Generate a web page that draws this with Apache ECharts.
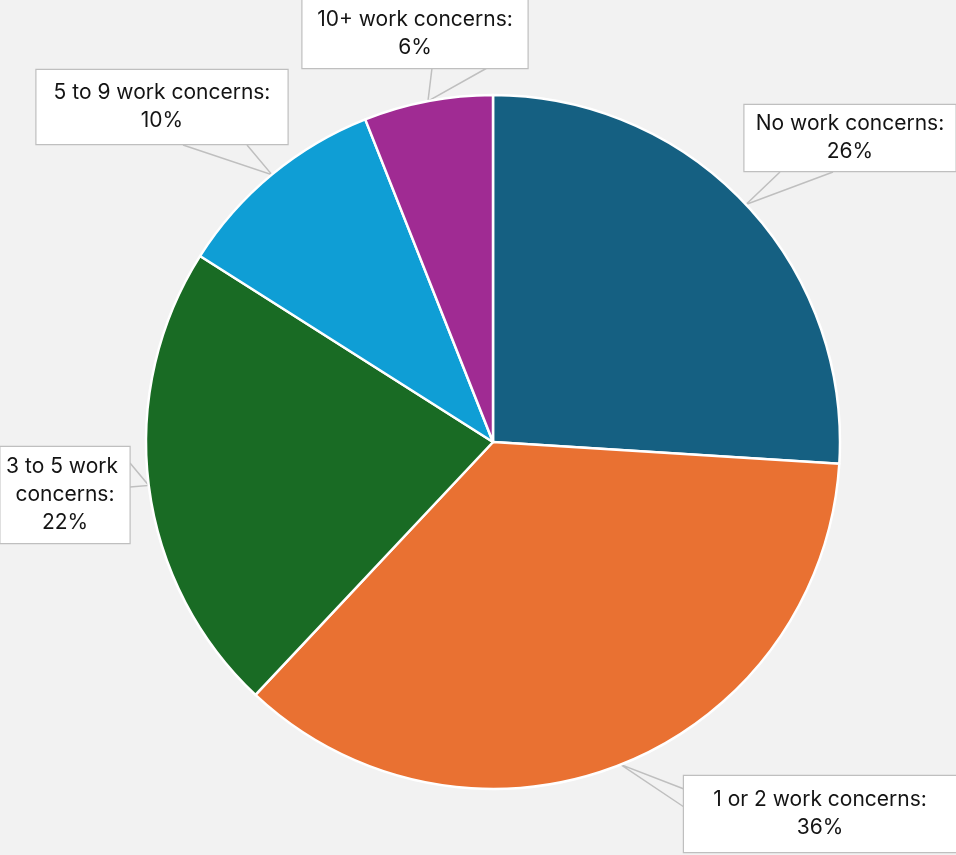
<!DOCTYPE html>
<html>
<head>
<meta charset="utf-8">
<style>
  html, body { margin: 0; padding: 0; background: #F2F2F2; }
  #chart { width: 956px; height: 855px; }
</style>
<script src="https://cdn.jsdelivr.net/npm/echarts@6/dist/echarts.min.js"></script>
</head>
<body>
<div id="chart"></div>
<script>
// Share of respondents by number of work concerns
const categories = ['No work concerns', '1 or 2 work concerns', '3 to 5 work concerns', '5 to 9 work concerns', '10+ work concerns'];
const shares = [26, 36, 22, 10, 6];
const colors = ['#156082', '#E97132', '#196B24', '#0F9ED5', '#A02B93'];

// Callout boxes: centre, width, vertical padding, and the two points
// (relative to the box centre) where the pointer leaves the box edge
const callouts = [
  { x: 850, y: 138, w: 211, pad: 5,  base: [[-70, 34], [-17, 34]] },
  { x: 820, y: 814, w: 272, pad: 10, base: [[-136, -25], [-136, -7]] },
  { x: 65,  y: 495, w: 129, pad: 6,  base: [[65, -32], [65, -8]] },
  { x: 162, y: 107, w: 251, pad: 9,  base: [[21, 38], [85, 38]] },
  { x: 415, y: 34,  w: 225, pad: 6,  base: [[17, 34], [72, 34]] }
];

const chart = echarts.init(document.getElementById('chart'));

const data = categories.map((name, i) => ({
  name: name,
  value: shares[i],
  itemStyle: { color: colors[i] },
  label: {
    width: callouts[i].w,
    padding: [callouts[i].pad, 0, callouts[i].pad, 0],
    overflow: 'break'
  }
}));

chart.setOption({
  backgroundColor: '#F2F2F2',
  animation: false,
  series: [{
    type: 'pie',
    center: [493, 442],
    radius: 347,
    startAngle: 90,
    clockwise: true,
    data: data,
    itemStyle: { borderColor: '#FFFFFF', borderWidth: 2.5 },
    label: {
      show: true,
      position: 'outside',
      formatter: p => p.name + ':\n' + p.value + '%',
      fontFamily: 'Inter, sans-serif',
      fontSize: 21,
      lineHeight: 28,
      color: '#141414',
      align: 'center',
      backgroundColor: '#FFFFFF',
      borderColor: '#BFBFBF',
      borderWidth: 1.2
    },
    labelLine: {
      show: true,
      length: 10,
      length2: 10,
      lineStyle: { color: '#BFBFBF', width: 1.5 }
    },
    labelLayout: params => {
      const c = callouts[params.dataIndex];
      const tip = params.labelLinePoints[0];
      return {
        x: c.x,
        y: c.y,
        align: 'center',
        verticalAlign: 'middle',
        labelLinePoints: [
          [c.x + c.base[0][0], c.y + c.base[0][1]],
          [tip[0], tip[1]],
          [c.x + c.base[1][0], c.y + c.base[1][1]]
        ]
      };
    }
  }]
});
</script>
</body>
</html>
